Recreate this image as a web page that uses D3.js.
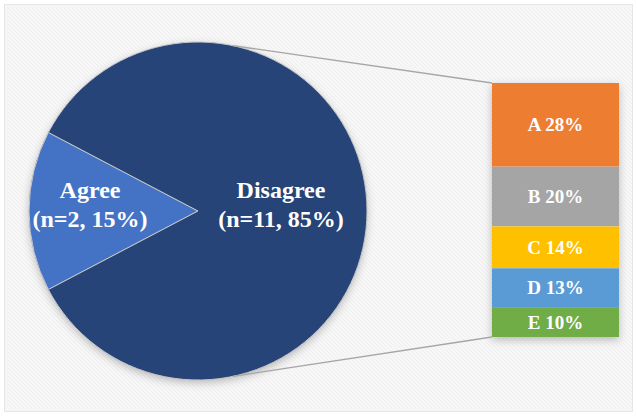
<!DOCTYPE html>
<html>
<head>
<meta charset="utf-8">
<script src="https://cdn.jsdelivr.net/npm/d3@7"></script>
<style>
  body { margin: 0; background: #fff; }
  svg text { font-family: "Liberation Serif", "Times New Roman", serif; font-weight: bold; fill: #fff; }
</style>
</head>
<body>
<div id="chart"></div>
<script>
// pie data
const pieLabels = ["Agree", "Disagree"];
const pieCounts = [2, 11];
const pieColors = ["#4472C4", "#264478"];

// breakdown of the Disagree slice (stacked bar)
const barLabels = ["A", "B", "C", "D", "E"];
const barValues = [28, 20, 14, 13, 10];
const barColors = ["#ED7D31", "#A5A5A5", "#FFC000", "#5B9BD5", "#70AD47"];

const width = 637, height = 416;
const cx = 198, cy = 211, r = 169;

const svg = d3.select("#chart").append("svg")
  .attr("width", width).attr("height", height);

const defs = svg.append("defs");
const pat = defs.append("pattern").attr("id", "stripes")
  .attr("width", 4).attr("height", 4)
  .attr("patternUnits", "userSpaceOnUse");
pat.append("rect").attr("width", 4).attr("height", 4).attr("fill", "#f7f7f7");
pat.append("path").attr("d", "M-1,-1 L5,5 M3,-1 L5,1 M-1,3 L1,5")
  .attr("stroke", "#efefef").attr("stroke-width", 1);

const shadow = defs.append("filter").attr("id", "shadow")
  .attr("x", "-20%").attr("y", "-20%").attr("width", "140%").attr("height", "140%");
shadow.append("feDropShadow").attr("dx", 0).attr("dy", 3)
  .attr("stdDeviation", 4).attr("flood-color", "#000").attr("flood-opacity", 0.25);

// background panel
svg.append("rect").attr("x", 4.5).attr("y", 4.5)
  .attr("width", 628).attr("height", 407)
  .attr("fill", "url(#stripes)").attr("stroke", "#e6e6e6");

// pie, Agree slice centred at 9 o'clock
const total = d3.sum(pieCounts);
const agreeSpan = 2 * Math.PI * pieCounts[0] / total;
const start = 1.5 * Math.PI - agreeSpan / 2;
const pie = d3.pie().sort(null).startAngle(start).endAngle(start + 2 * Math.PI);
const arcs = pie(pieCounts);
const arc = d3.arc().innerRadius(0).outerRadius(r);

const pg = svg.append("g").attr("transform", `translate(${cx},${cy})`);
pg.append("circle").attr("r", r).attr("fill", pieColors[1]).attr("filter", "url(#shadow)");
pg.selectAll("path.slice").data(arcs).join("path")
  .attr("class", "slice")
  .attr("d", arc)
  .attr("fill", (d, i) => pieColors[i])
  .attr("stroke", "#c8c8c8").attr("stroke-width", 1);

// pie labels
const pieLabelPos = [[90 - cx, 0], [281 - cx, 0]];
arcs.forEach((d, i) => {
  const pct = Math.round(100 * pieCounts[i] / total);
  const t = pg.append("text").attr("text-anchor", "middle")
    .attr("x", pieLabelPos[i][0]).attr("y", -13)
    .style("font-size", "24px");
  t.append("tspan").attr("x", pieLabelPos[i][0]).text(pieLabels[i]);
  t.append("tspan").attr("x", pieLabelPos[i][0]).attr("dy", 29)
    .text(`(n=${pieCounts[i]}, ${pct}%)`);
});

// stacked bar
const barX = 492, barW = 127, barTop = 83, barBottom = 337;
const y = d3.scaleLinear().domain([0, d3.sum(barValues)]).range([barTop, barBottom]);
const cum = d3.cumsum([0, ...barValues]);

const bg = svg.append("g");
bg.append("rect").attr("x", barX).attr("y", barTop)
  .attr("width", barW).attr("height", barBottom - barTop)
  .attr("fill", "#fff").attr("filter", "url(#shadow)");
bg.selectAll("rect.seg").data(barValues).join("rect")
  .attr("class", "seg")
  .attr("x", barX).attr("width", barW)
  .attr("y", (d, i) => y(cum[i]))
  .attr("height", (d, i) => y(cum[i + 1]) - y(cum[i]))
  .attr("fill", (d, i) => barColors[i]);
bg.selectAll("text").data(barValues).join("text")
  .attr("text-anchor", "middle")
  .attr("x", barX + barW / 2)
  .attr("y", (d, i) => (y(cum[i]) + y(cum[i + 1])) / 2)
  .attr("dy", "0.35em")
  .style("font-size", "19px")
  .text((d, i) => `${barLabels[i]} ${d}%`);

// connector lines from the pie edge to the bar corners
const connAngle = 12 * Math.PI / 180;
const p1 = [cx + r * Math.sin(connAngle), cy - r * Math.cos(connAngle)];
const p2 = [cx + r * Math.sin(connAngle), cy + r * Math.cos(connAngle)];
svg.append("line").attr("x1", p1[0]).attr("y1", p1[1]).attr("x2", barX).attr("y2", barTop)
  .attr("stroke", "#a6a6a6").attr("stroke-width", 1.3);
svg.append("line").attr("x1", p2[0]).attr("y1", p2[1]).attr("x2", barX).attr("y2", barBottom)
  .attr("stroke", "#a6a6a6").attr("stroke-width", 1.3);
</script>
</body>
</html>
